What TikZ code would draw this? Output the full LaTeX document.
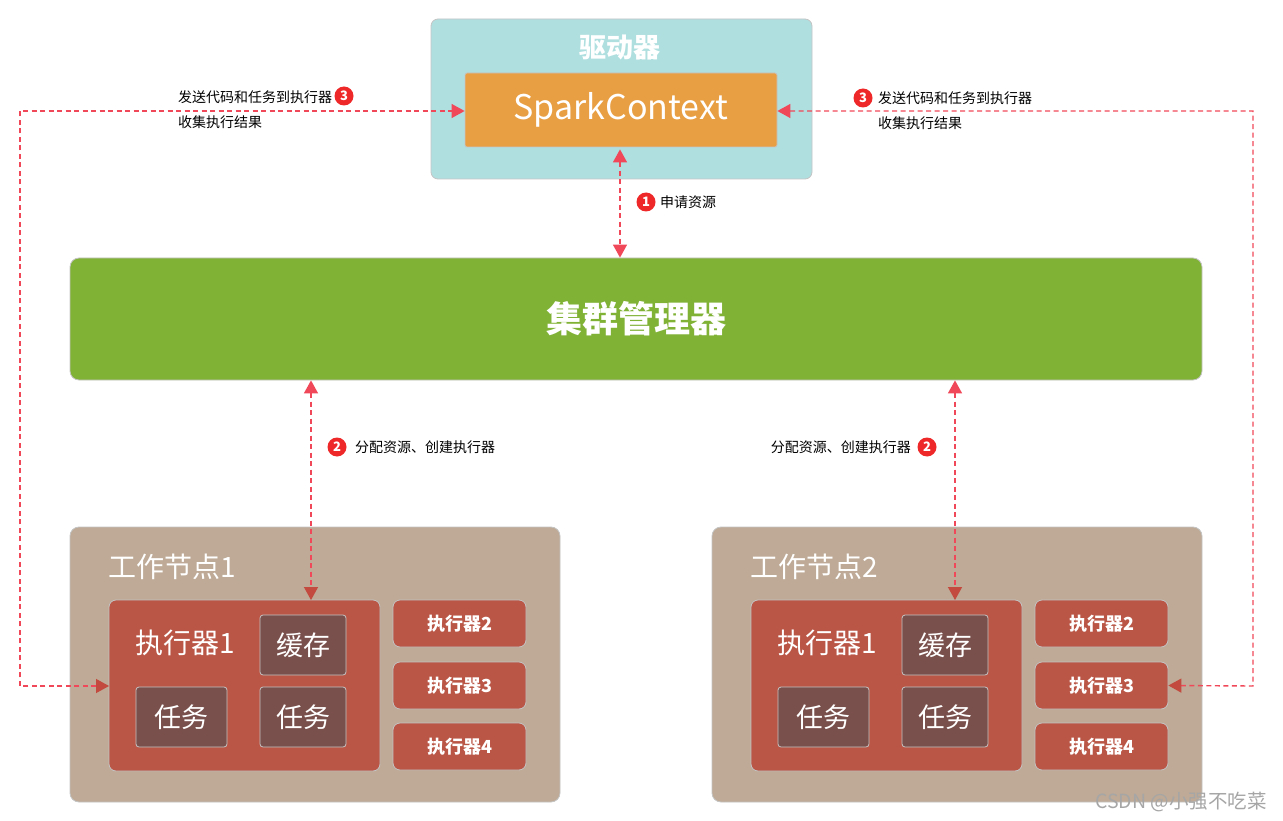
\documentclass[tikz,border=0pt]{standalone}
\usepackage{fontspec}
\setmainfont{Noto Sans CJK SC}
\newfontfamily\cjk{Noto Sans CJK SC}
\usetikzlibrary{arrows.meta}
\definecolor{drvc}{HTML}{B0DFE0}
\definecolor{scc}{HTML}{E89E42}
\definecolor{cmc}{HTML}{80B236}
\definecolor{wkc}{HTML}{BEAA96}
\definecolor{exc}{HTML}{BA5646}
\definecolor{cac}{HTML}{7A504C}
\definecolor{bdc}{HTML}{C4C4C4}
\definecolor{arc}{HTML}{F04858}
\definecolor{ardk}{HTML}{C24A3E}
\definecolor{numc}{HTML}{EE2828}
\tikzset{
  box/.style={draw=bdc, line width=0.8pt, rounded corners=7pt, inner sep=0pt},
  lbl/.style={font=\fontsize{14}{16}\selectfont, text=black, inner sep=0pt, anchor=west},
  num/.style={circle, fill=numc, text=white, inner sep=0pt, minimum size=19pt, font=\fontsize{13}{13}\selectfont\bfseries},
  conn/.style={draw=arc, dashed, dash pattern=on 5pt off 3.5pt, line width=1.4pt},
  big/.style={text=white, font=\fontsize{28}{30}\selectfont},
  small/.style={box, fill=exc, minimum width=133pt, minimum height=47pt, text=white, font=\fontsize{18}{20}\selectfont\bfseries},
  inner/.style={box, fill=cac, rounded corners=3pt, minimum height=60pt, text=white, font=\fontsize{27}{29}\selectfont},
}
\begin{document}
\begin{tikzpicture}[x=1pt,y=-1pt]
\useasboundingbox (0,0) rectangle (1283,821);
% driver
\path[box, fill=drvc] (431,19) rectangle (812,179);
\node[text=white, font=\fontsize{27}{29}\selectfont\bfseries] (drvlbl) at (620,47) {驱动器};
\node[box, fill=scc, rounded corners=2pt, minimum width=312pt, minimum height=74pt, text=white, font=\fontsize{34}{36}\selectfont] (sc) at (621,110) {SparkContext};
% cluster manager
\node[box, fill=cmc, rounded corners=9pt, minimum width=1132pt, minimum height=122pt, text=white, font=\fontsize{36}{38}\selectfont\bfseries] (cm) at (636,319) {集群管理器};
% worker 1
\path[box, fill=wkc, rounded corners=9pt] (70,527) rectangle (560,802);
\node[big, anchor=west, inner sep=0pt] (w1lbl) at (108,567) {工作节点1};
\path[box, fill=exc] (109,600) rectangle (380,771);
\node[big, anchor=west, inner sep=0pt] (e1lbl) at (135,643) {执行器1};
\node[inner, minimum width=86pt] (ca1) at (303,645) {缓存};
\node[inner, minimum width=91pt] (ta1) at (181.5,717) {任务};
\node[inner, minimum width=86pt] (tb1) at (303,717) {任务};
\coordinate (ex1w) at (109,686);
\coordinate (ex1n) at (311,600);
\node[small] (e12) at (459.5,623.5) {执行器2};
\node[small] (e13) at (459.5,685.5) {执行器3};
\node[small] (e14) at (459.5,746.5) {执行器4};
% worker 2
\path[box, fill=wkc, rounded corners=9pt] (712,527) rectangle (1202,802);
\node[big, anchor=west, inner sep=0pt] (w2lbl) at (750,567) {工作节点2};
\path[box, fill=exc] (751,600) rectangle (1022,771);
\node[big, anchor=west, inner sep=0pt] (e2lbl) at (777,643) {执行器1};
\node[inner, minimum width=86pt] (ca2) at (945,645) {缓存};
\node[inner, minimum width=91pt] (ta2) at (823.5,717) {任务};
\node[inner, minimum width=86pt] (tb2) at (945,717) {任务};
\coordinate (ex2n) at (955,600);
\node[small] (e22) at (1101.5,623.5) {执行器2};
\node[small] (e23) at (1101.5,685.5) {执行器3};
\node[small] (e24) at (1101.5,746.5) {执行器4};
% connectors
\draw[conn, {Triangle[length=13pt,width=14pt,color=arc]}-{Triangle[length=13pt,width=14pt,color=arc]}] (sc.south -| 620,0) ++(0,2) coordinate (a1s) -- (cm.north -| 620,0);
\draw[conn, {Triangle[length=13pt,width=14pt,color=arc]}-{Triangle[length=13pt,width=14pt,color=ardk]}] (cm.south -| ex1n) -- (ex1n);
\draw[conn, {Triangle[length=13pt,width=14pt,color=arc]}-{Triangle[length=13pt,width=14pt,color=ardk]}] (cm.south -| ex2n) -- (ex2n);
\coordinate (lc1) at (20,111);
\coordinate (lc2) at (20,686);
\coordinate (rc1) at (1253,111);
\coordinate (rc2) at (1253,686);
\draw[conn, {Triangle[length=13pt,width=14pt,color=ardk]}-{Triangle[length=13pt,width=14pt,color=arc]}] (ex1w) -- (lc2) -- (lc1) -- (sc.west |- lc1);
\draw[conn, {Triangle[length=13pt,width=14pt,color=arc]}-{Triangle[length=13pt,width=14pt,color=ardk]}] (sc.east |- rc1) -- (rc1) -- (rc2) -- (e23.east);
% labels
\node[num] (n1) at (646,202) {1};
\node[lbl] (t1) at (660,202) {申请资源};
\node[num] (n2l) at (337,447) {2};
\node[lbl] (t2l) at (355,447) {分配资源、创建执行器};
\node[num] (n2r) at (927,447) {2};
\node[lbl, anchor=east] (t2r) at (911,447) {分配资源、创建执行器};
\node[num] (n3l) at (344,96) {3};
\node[lbl] (t3l) at (178,97) {发送代码和任务到执行器};
\node[lbl] (t3l2) at (178,122) {收集执行结果};
\node[num] (n3r) at (863,98) {3};
\node[lbl] (t3r) at (878,98) {发送代码和任务到执行器};
\node[lbl] (t3r2) at (878,123) {收集执行结果};
% watermark
\node[text=gray!70, font=\fontsize{19.5}{21}\selectfont, anchor=east, inner sep=0pt] (wm) at (1267,802) {CSDN @小强不吃菜};
\end{tikzpicture}
\end{document}
